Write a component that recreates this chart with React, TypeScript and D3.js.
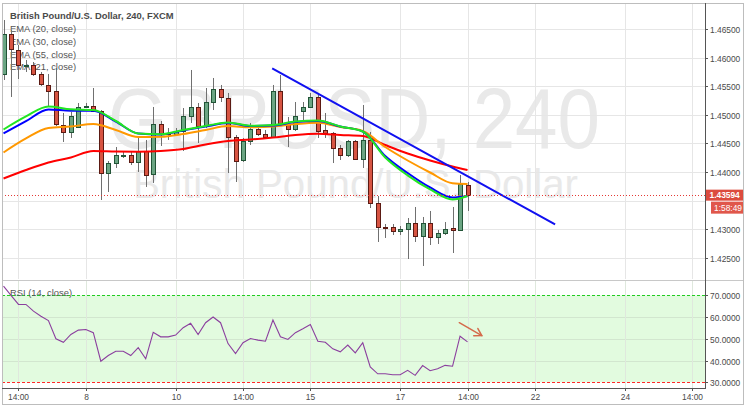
import React from "react";
import * as d3 from "d3";

// ---- Data ----
const openP = [1.45713,1.46413,1.46133,1.45862,1.4587,1.45713,1.45521,1.45416,1.44821,1.44699,1.44786,1.45136,1.45153,1.45066,1.43981,1.44156,1.44296,1.44296,1.44174,1.44366,1.43964,1.44838,1.44681,1.44664,1.44716,1.44978,1.45136,1.44803,1.45223,1.45451,1.45293,1.44611,1.44209,1.44541,1.44751,1.44664,1.44611,1.45416,1.44838,1.44751,1.45066,1.45136,1.45311,1.44734,1.44681,1.44419,1.44296,1.44541,1.44226,1.44559,1.43457,1.43037,1.43037,1.42967,1.43002,1.43107,1.4288,1.43107,1.42862,1.42932,1.43019,1.42985,1.43772];
const highP = [1.46657,1.46483,1.4622,1.45958,1.45923,1.45748,1.45713,1.45818,1.45031,1.45048,1.45206,1.45206,1.45468,1.45083,1.44191,1.44436,1.44349,1.44349,1.44611,1.44559,1.45136,1.44891,1.44768,1.44768,1.45118,1.45783,1.45206,1.45468,1.45643,1.45521,1.45381,1.44646,1.44594,1.44856,1.44803,1.44734,1.45521,1.45695,1.44961,1.45223,1.45223,1.45381,1.45346,1.45031,1.44699,1.44471,1.44559,1.44559,1.45171,1.44699,1.43579,1.43089,1.43089,1.43054,1.43194,1.43387,1.43212,1.43317,1.42985,1.43124,1.43387,1.43946,1.43824];
const lowP = [1.45608,1.45311,1.45625,1.45748,1.45678,1.45503,1.45136,1.44803,1.44524,1.44594,1.44768,1.45118,1.45048,1.43509,1.43649,1.44069,1.44244,1.44121,1.43999,1.43737,1.43807,1.44454,1.44559,1.44629,1.44366,1.44856,1.44506,1.44768,1.45083,1.45223,1.43981,1.43824,1.44174,1.44471,1.44629,1.44576,1.44594,1.44803,1.44436,1.44716,1.44908,1.45118,1.44594,1.44594,1.44156,1.44209,1.44261,1.44209,1.44069,1.43369,1.42775,1.42845,1.42897,1.42897,1.42477,1.42775,1.42355,1.42722,1.4274,1.42897,1.42582,1.42985,1.43317];
const closeP = [1.46413,1.4615,1.4587,1.4587,1.45713,1.45538,1.45416,1.44838,1.44699,1.44978,1.45136,1.45153,1.45066,1.43981,1.44156,1.44296,1.443,1.44174,1.44366,1.43946,1.44838,1.44664,1.44664,1.44716,1.44978,1.45136,1.44803,1.45223,1.45451,1.45311,1.44611,1.44191,1.44541,1.44751,1.44664,1.44611,1.45416,1.44838,1.44751,1.44978,1.45136,1.45311,1.44716,1.44681,1.44419,1.44296,1.44541,1.44226,1.44559,1.43457,1.43037,1.43028,1.42967,1.43002,1.43107,1.4288,1.43107,1.42862,1.42932,1.43002,1.42985,1.43789,1.43594];

const emaIdx = [0,3,6,9,12,15,18,21,24,27,30,33,36,39,42,45,48,51,54,57,60,62];
const ema20 = [1.44742,1.4497,1.45145,1.45096,1.45083,1.44891,1.44672,1.44658,1.44734,1.44803,1.44865,1.44809,1.44821,1.44882,1.449,1.44795,1.44707,1.44253,1.4394,1.43693,1.43518,1.43579];
const ema30 = [1.44676,1.44887,1.45092,1.45071,1.45071,1.44882,1.44672,1.44655,1.44725,1.44795,1.44856,1.44803,1.44812,1.44873,1.44891,1.44795,1.44707,1.44279,1.43981,1.43728,1.43553,1.43579];
const ema55 = [1.4434,1.44585,1.44769,1.44795,1.44838,1.44734,1.44611,1.44616,1.44664,1.44734,1.44803,1.44781,1.44795,1.44838,1.44861,1.44786,1.44716,1.44436,1.442,1.4399,1.43801,1.43789];
const ema21 = [1.43885,1.44034,1.44165,1.44253,1.44366,1.44357,1.44354,1.44366,1.44401,1.4448,1.44541,1.44567,1.44602,1.44646,1.44667,1.44646,1.44629,1.44471,1.44322,1.442,1.44095,1.44034];

const rsiVals = [74.2,70,65.8,65.8,62.7,60.4,58.4,50,48.4,52,54,54.3,52.8,39.7,42.3,44.3,44.3,42.3,45.9,40.8,53,50.9,50.9,51.7,55.1,57.1,52,57.4,60,57.4,47.8,43.2,48.2,50.1,49.4,48.9,58.6,50.9,49.7,52.8,54.6,56.6,48.9,48.4,45.4,44,47.1,43.5,48.2,37.1,33.9,33.9,33.5,33.5,35.5,33.2,37.7,35.3,36.2,37.8,37.4,51.2,48.6];

const trendIdx = [35.9, 73.7];
const trendPrice = [1.45813, 1.43082];

const arrowIdx = [60.9, 63.9];
const arrowRsi = [57.4, 51.5];

const priceTicks = [1.425, 1.43, 1.44, 1.445, 1.45, 1.455, 1.46, 1.465];
const priceGrid = [1.425, 1.43, 1.435, 1.44, 1.445, 1.45, 1.455, 1.46, 1.465];
const rsiTicks = [30, 40, 50, 60, 70];
const xTickIdx = [2, 11, 23, 32, 41, 53, 62, 71, 83, 92];
const xTickLabels = ["14:00", "8", "10", "14:00", "15", "17", "14:00", "22", "24", "14:00"];

const legendTitle = "British Pound/U.S. Dollar, 240, FXCM";
const legendItems = ["EMA (20, close)", "EMA (30, close)", "EMA (55, close)", "EMA (21, close)"];
const watermarkMain = "GBPUSD, 240";
const watermarkSub = "British Pound/U.S. Dollar";
const lastPrice = 1.43594;
const countdown = "1:58:49";

// ---- Layout ----
const W = 746, H = 406;
const plotL = 2, plotR = 705, mainT = 3, mainB = 279, rsiT = 281, rsiB = 388, axisB = 404, outerR = 743;
const FONT = "'Liberation Sans', Arial, sans-serif";

export default function App() {
  const xS = d3.scaleLinear().domain([0, 93]).range([3.52, 3.52 + 7.484 * 93]);
  const yS = d3.scaleLinear().domain([1.425, 1.465]).range([257.7, 29]);
  const rS = d3.scaleLinear().domain([30, 70]).range([382.3, 295.3]);

  const emaLine = d3
    .line<number>()
    .x((_, k) => xS(emaIdx[k]))
    .y((v) => yS(v))
    .curve(d3.curveMonotoneX);
  const rsiLine = d3
    .line<number>()
    .x((_, k) => xS(k))
    .y((v) => rS(v));

  const gridX = xTickIdx.map((i) => Math.round(xS(i)) + 0.5);

  // arrow geometry
  const ax1 = xS(arrowIdx[0]), ay1 = rS(arrowRsi[0]);
  const ax2 = xS(arrowIdx[1]), ay2 = rS(arrowRsi[1]);
  const ang = Math.atan2(ay2 - ay1, ax2 - ax1);
  const hl = 8;
  const h1 = [ax2 - hl * Math.cos(ang - 0.55), ay2 - hl * Math.sin(ang - 0.55)];
  const h2 = [ax2 - hl * Math.cos(ang + 0.55), ay2 - hl * Math.sin(ang + 0.55)];

  const lastY = yS(lastPrice);

  return (
    <svg
      width={W}
      height={H}
      style={{ position: "absolute", left: 0, top: 0, display: "block" }}
      fontFamily={FONT}
    >
      <defs>
        <clipPath id="mainClip">
          <rect x={plotL} y={mainT} width={plotR - plotL} height={mainB - mainT} />
        </clipPath>
        <clipPath id="rsiClip">
          <rect x={plotL} y={rsiT} width={plotR - plotL} height={rsiB - rsiT} />
        </clipPath>
      </defs>
      <rect x={0} y={0} width={W} height={H} fill="#ffffff" />

      {/* watermark */}
      <text fill="#e9e9e9">
        <tspan x={108} y={148} fontSize={86} textLength={492} lengthAdjust="spacingAndGlyphs">
          {watermarkMain}
        </tspan>
        <tspan x={133} y={198} fontSize={40} textLength={445} lengthAdjust="spacingAndGlyphs">
          {watermarkSub}
        </tspan>
      </text>

      {/* main grid */}
      {priceGrid.map((p) => (
        <line key={"pg" + p} x1={plotL} x2={plotR} y1={Math.round(yS(p)) + 0.5} y2={Math.round(yS(p)) + 0.5} stroke="#e6e6e6" />
      ))}
      {gridX.map((x, k) => (
        <line key={"gx" + k} x1={x} x2={x} y1={mainT} y2={mainB} stroke="#e6e6e6" />
      ))}

      {/* RSI panel background */}
      <rect x={plotL} y={rS(70)} width={plotR - plotL} height={rS(30) - rS(70)} fill="#e2fbdf" />
      {[40, 50, 60].map((v) => (
        <line key={"rg" + v} x1={plotL} x2={plotR} y1={Math.round(rS(v)) + 0.5} y2={Math.round(rS(v)) + 0.5} stroke="#d2e6cf" />
      ))}
      {gridX.map((x, k) => (
        <line key={"rgx" + k} x1={x} x2={x} y1={rsiT} y2={rsiB} stroke="#dfe8dd" />
      ))}
      <line x1={plotL} x2={plotR} y1={Math.round(rS(70)) + 0.5} y2={Math.round(rS(70)) + 0.5} stroke="#22cc22" strokeDasharray="3,2" />
      <line x1={plotL} x2={plotR} y1={Math.round(rS(30)) + 0.5} y2={Math.round(rS(30)) + 0.5} stroke="#ff2a2a" strokeDasharray="3,2" />

      {/* legend */}
      <text x={10} y={18.8} fontSize={9.4} fontWeight="bold" fill="#4a4a4a">
        {legendTitle}
      </text>
      {legendItems.map((t, k) => (
        <text key={t} x={10} y={32.3 + k * 12.6} fontSize={9.4} fill="#555">
          {t}
        </text>
      ))}

      {/* candles */}
      <g clipPath="url(#mainClip)">
        {openP.map((o, i) => {
          const c = closeP[i];
          const up = c >= o;
          const px = Math.round(xS(i));
          const top = Math.round(yS(Math.max(o, c)));
          const bot = Math.round(yS(Math.min(o, c)));
          const h = Math.max(bot - top, 1);
          return (
            <g key={"c" + i}>
              <line x1={px + 0.5} x2={px + 0.5} y1={yS(highP[i])} y2={yS(lowP[i])} stroke="#707070" />
              <rect
                x={px - 1.5}
                y={top + 0.5}
                width={4}
                height={h}
                fill={up ? "#6ba583" : "#d75442"}
                stroke={up ? "#225437" : "#5b1a13"}
              />
            </g>
          );
        })}

        {/* EMA lines */}
        <path d={emaLine(ema21) || ""} fill="none" stroke="#ff0000" strokeWidth={2} />
        <path d={emaLine(ema55) || ""} fill="none" stroke="#ff9800" strokeWidth={2} />
        <path d={emaLine(ema30) || ""} fill="none" stroke="#0000ff" strokeWidth={2} />
        <path d={emaLine(ema20) || ""} fill="none" stroke="#22e622" strokeWidth={2} />

        {/* trend line */}
        <line
          x1={xS(trendIdx[0])}
          y1={yS(trendPrice[0])}
          x2={xS(trendIdx[1])}
          y2={yS(trendPrice[1])}
          stroke="#1010f0"
          strokeWidth={2}
        />
      </g>

      {/* last price dotted line */}
      <line x1={plotL} x2={plotR} y1={Math.round(lastY) + 0.5} y2={Math.round(lastY) + 0.5} stroke="#e53935" strokeDasharray="1,2" />

      {/* RSI */}
      <g clipPath="url(#rsiClip)">
        <path d={rsiLine(rsiVals) || ""} fill="none" stroke="#8b3f9e" strokeWidth={1.1} />
      </g>
      <text x={10} y={296} fontSize={9.4} fill="#555">
        RSI (14, close)
      </text>
      <g stroke="#d46a4a" strokeWidth={1.5} fill="none" strokeLinecap="round">
        <line x1={ax1} y1={ay1} x2={ax2} y2={ay2} />
        <polyline points={`${h1[0]},${h1[1]} ${ax2},${ay2} ${h2[0]},${h2[1]}`} />
      </g>

      {/* frames */}
      <line x1={plotL} x2={outerR} y1={280.5} y2={280.5} stroke="#c8c8c8" />
      <rect x={plotL + 0.5} y={mainT + 0.5} width={outerR - plotL} height={axisB - mainT} fill="none" stroke="#bdbdbd" />
      <line x1={plotR + 0.5} x2={plotR + 0.5} y1={mainT} y2={rsiB} stroke="#555" />
      <line x1={plotL} x2={plotR + 1} y1={rsiB + 0.5} y2={rsiB + 0.5} stroke="#555" />

      {/* price axis */}
      {priceTicks.map((p) => {
        const y = Math.round(yS(p)) + 0.5;
        return (
          <g key={"pt" + p}>
            <line x1={plotR} x2={plotR + 3} y1={y} y2={y} stroke="#555" />
            <text x={710} y={y + 3} fontSize={8.4} fill="#4a4a4a">
              {p.toFixed(5)}
            </text>
          </g>
        );
      })}
      {rsiTicks.map((v) => {
        const y = Math.round(rS(v)) + 0.5;
        return (
          <g key={"rt" + v}>
            <line x1={plotR} x2={plotR + 3} y1={y} y2={y} stroke="#555" />
            <text x={710} y={y + 3} fontSize={8.4} fill="#4a4a4a">
              {v.toFixed(4)}
            </text>
          </g>
        );
      })}

      {/* last price labels */}
      <rect x={plotR + 1} y={lastY - 5.5} width={outerR - plotR - 1} height={11} fill="#dc4b3e" />
      <text x={709.5} y={lastY + 3} fontSize={8.4} fill="#ffffff" fontWeight="bold">
        {lastPrice.toFixed(5)}
      </text>
      <rect x={711} y={lastY + 6.5} width={outerR - 711} height={12} fill="#e0574b" />
      <text x={714} y={lastY + 15.5} fontSize={8.4} fill="#ffffff">
        {countdown}
      </text>

      {/* x axis */}
      {xTickIdx.map((i, k) => {
        const x = gridX[k];
        return (
          <g key={"xt" + k}>
            <line x1={x} x2={x} y1={rsiB} y2={rsiB + 3} stroke="#555" />
            <text x={x} y={399.5} fontSize={8.4} fill="#4a4a4a" textAnchor="middle">
              {xTickLabels[k]}
            </text>
          </g>
        );
      })}
    </svg>
  );
}
